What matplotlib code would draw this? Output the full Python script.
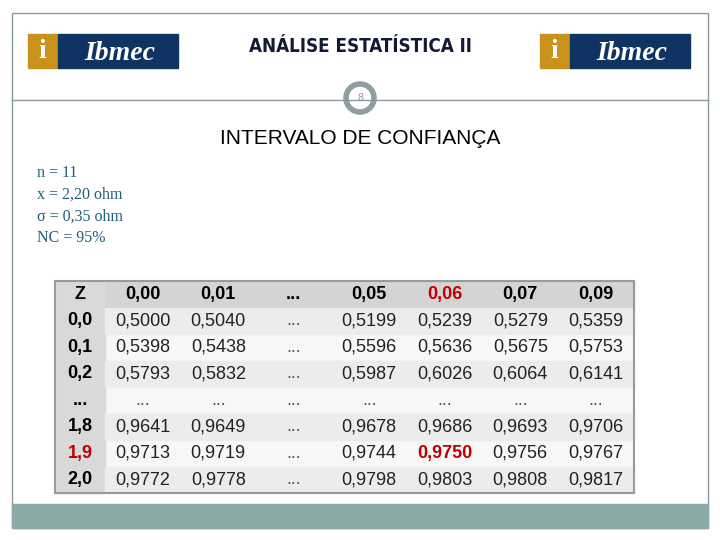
import matplotlib
matplotlib.use("Agg")
import matplotlib.pyplot as plt
from matplotlib.patches import Rectangle, Circle

col_labels = ["0,00", "0,01", "...", "0,05", "0,06", "0,07", "0,09"]
row_labels = ["0,0", "0,1", "0,2", "...", "1,8", "1,9", "2,0"]
cells = [
    ["0,5000", "0,5040", "...", "0,5199", "0,5239", "0,5279", "0,5359"],
    ["0,5398", "0,5438", "...", "0,5596", "0,5636", "0,5675", "0,5753"],
    ["0,5793", "0,5832", "...", "0,5987", "0,6026", "0,6064", "0,6141"],
    ["...", "...", "...", "...", "...", "...", "..."],
    ["0,9641", "0,9649", "...", "0,9678", "0,9686", "0,9693", "0,9706"],
    ["0,9713", "0,9719", "...", "0,9744", "0,9750", "0,9756", "0,9767"],
    ["0,9772", "0,9778", "...", "0,9798", "0,9803", "0,9808", "0,9817"],
]
info = ["n = 11", "x = 2,20 ohm", "σ = 0,35 ohm", "NC = 95%"]
hi_row, hi_col = 5, 4

fig = plt.figure(figsize=(7.2, 5.4), dpi=100)
ax = fig.add_axes([0, 0, 1, 1])
ax.set_xlim(0, 720)
ax.set_ylim(540, 0)
ax.axis("off")

# frame, separator, bottom band
ax.add_patch(Rectangle((12, 13), 696, 515, fill=False, ec="#8a9a9a", lw=1))
ax.plot([12, 708], [100, 100], color="#8a9a9a", lw=1)
ax.add_patch(Rectangle((12, 504), 696, 24, color="#8aa9a9"))
ax.add_patch(Circle((360, 98), 14, fc="white", ec="#8f9e9e", lw=4))
ax.text(360, 98, "8", ha="center", va="center", fontsize=7, color="#8a9a9a")

# logos
for x0 in (28, 540):
    ax.add_patch(Rectangle((x0, 34), 30, 34, color="#c8921c"))
    ax.add_patch(Rectangle((x0 + 30, 34), 120, 34, color="#0f3462"))
    ax.text(x0 + 14, 52, "i", ha="center", va="center", fontsize=20, color="white",
            family="Liberation Serif", weight="bold")
    ax.text(x0 + 92, 54, "Ibmec", ha="center", va="center", fontsize=20, color="white",
            family="Liberation Serif", style="italic", weight="bold")

ax.text(360, 47, "ANÁLISE ESTATÍSTICA II", ha="center", va="center", fontsize=13.5,
        weight="bold", color="#141a33", family="DejaVu Sans", stretch="condensed")
ax.text(360, 138, "INTERVALO DE CONFIANÇA", ha="center", va="center", fontsize=15,
        color="black", family="Liberation Sans")
for i, s in enumerate(info):
    ax.text(37, 173 + i * 21.8, s, ha="left", va="center", fontsize=11.5,
            color="#1f5f75", family="Liberation Serif")

# table
tx, ty, zw, cw, rh = 55, 281, 50, 75.5, 26.5
nrow = len(row_labels) + 1
tw = zw + cw * len(col_labels)
ax.add_patch(Rectangle((tx, ty), tw, rh * nrow, color="#f7f7f7", zorder=1))
ax.add_patch(Rectangle((tx, ty), tw, rh, color="#d4d4d4", zorder=2))
ax.add_patch(Rectangle((tx, ty), zw, rh * nrow, color="#d9d9d9", zorder=2))
for r in range(len(row_labels)):
    if r % 2 == 0:
        ax.add_patch(Rectangle((tx + zw, ty + rh * (r + 1)), cw * len(col_labels), rh,
                               color="#ececec", zorder=2))
ax.add_patch(Rectangle((tx, ty), tw, rh * nrow, fill=False, ec="#9a9a9a", lw=1.5, zorder=4))
fs = 13
ax.text(tx + zw / 2, ty + rh / 2, "Z", ha="center", va="center", fontsize=fs,
        weight="bold", family="Liberation Sans", zorder=3)
for c, lab in enumerate(col_labels):
    ax.text(tx + zw + cw * (c + 0.5), ty + rh / 2, lab, ha="center", va="center",
            fontsize=fs, weight="bold", family="Liberation Sans", zorder=3,
            color="#c00000" if c == hi_col else "black")
for r, lab in enumerate(row_labels):
    y = ty + rh * (r + 1.5)
    ax.text(tx + zw / 2, y, lab, ha="center", va="center", fontsize=fs, weight="bold",
            family="Liberation Sans", zorder=3, color="#c00000" if r == hi_row else "black")
    for c, v in enumerate(cells[r]):
        hi = (r, c) == (hi_row, hi_col)
        ax.text(tx + zw + cw * (c + 0.5), y, v, ha="center", va="center", fontsize=fs,
                family="Liberation Sans", zorder=3, weight="bold" if hi else "normal",
                color="#c00000" if hi else ("#555555" if v == "..." else "#222222"))

fig.savefig("out.png", dpi=100)
